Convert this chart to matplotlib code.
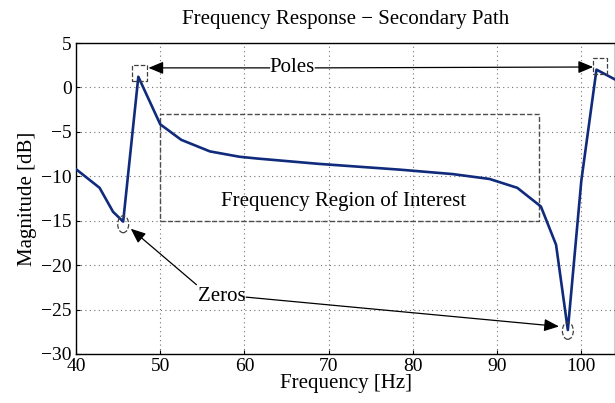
"""Frequency response of the secondary path with poles/zeros annotations."""

import matplotlib
matplotlib.use("Agg")
import matplotlib.pyplot as plt
from matplotlib.patches import Ellipse, Rectangle

plt.rcParams.update({
    "font.family": ["Liberation Serif", "DejaVu Serif"],
    "font.size": 15,
    "axes.linewidth": 1.0,
})

freq = [40.0, 42.8, 44.4, 45.6, 47.4, 50.0, 52.5, 55.9, 59.4, 61.5, 68.8,
        78.4, 84.7, 89.1, 92.4, 95.2, 97.0, 98.4, 100.0, 101.8, 104.0]
mag = [-9.2, -11.3, -14.0, -15.1, 1.2, -4.15, -5.9, -7.2, -7.8, -8.0, -8.6,
       -9.25, -9.75, -10.3, -11.3, -13.4, -17.7, -27.3, -10.5, 2.0, 0.9]

poles = [(47.55, 1.6), (102.25, 2.45)]
zeros = [(45.6, -15.4), (98.4, -27.4)]
roi = (50.0, 95.0, -15.0, -3.0)
NAVY = "#102a7c"


def main():
    fig = plt.figure(figsize=(6.15, 4.03), dpi=100)
    ax = fig.add_axes([0.1236, 0.1216, 0.8764, 0.7717])
    ax.plot(freq, mag, color=NAVY, lw=1.9, zorder=3)
    ax.set_xlim(40, 104)
    ax.set_ylim(-30, 5)
    ax.set_xticks(range(40, 101, 10))
    ax.set_yticks(range(-30, 6, 5))
    ax.grid(True, linestyle=(0, (1, 3)), color="0.45", lw=0.8)
    ax.tick_params(direction="in", length=3, width=0.8, labelsize=14, pad=3)
    ax.set_xlabel("Frequency [Hz]", fontsize=15, labelpad=-1)
    ax.set_ylabel("Magnitude [dB]", fontsize=15, labelpad=3)
    ax.set_title("Frequency Response \u2212 Secondary Path", fontsize=15, pad=14)

    # region of interest
    x0, x1, y0, y1 = roi
    ax.add_patch(Rectangle((x0, y0), x1 - x0, y1 - y0, fill=False, ls="--",
                           lw=1.0, ec="0.3", zorder=2))
    ax.text(71.8, -12.8, "Frequency Region of Interest",
            ha="center", va="center", fontsize=15)

    # poles
    for px, py in poles:
        ax.add_patch(Rectangle((px - 0.85, py - 0.9), 1.7, 1.8, fill=False,
                               ls="--", lw=0.9, ec="0.25", zorder=4))
    arr = dict(arrowstyle="-|>,head_length=0.6,head_width=0.25", color="k",
               lw=0.9, shrinkA=0, shrinkB=0)
    ax.text(65.7, 2.2, "Poles", ha="center", va="center", fontsize=15)
    ax.annotate("", xy=(48.6, 2.2), xytext=(63.0, 2.2), arrowprops=arr)
    ax.annotate("", xy=(101.4, 2.3), xytext=(68.4, 2.2), arrowprops=arr)

    # zeros
    for zx, zy in zeros:
        ax.add_patch(Ellipse((zx, zy), 1.3, 1.9, fill=False, ls="--",
                             lw=0.9, ec="0.25", zorder=4))
    ax.text(57.3, -23.5, "Zeros", ha="center", va="center", fontsize=15)
    ax.annotate("", xy=(46.5, -15.9), xytext=(54.3, -22.2), arrowprops=arr)
    ax.annotate("", xy=(97.35, -26.9), xytext=(60.2, -23.6), arrowprops=arr)

    fig.savefig("out.png", dpi=100)
    plt.close(fig)


if __name__ == "__main__":
    main()
